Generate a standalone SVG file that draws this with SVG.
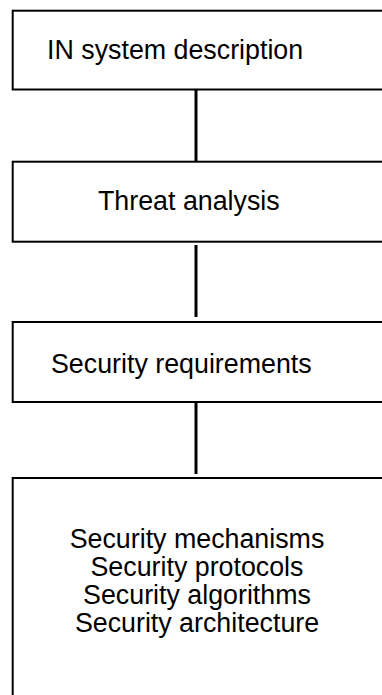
<svg xmlns="http://www.w3.org/2000/svg" width="382" height="695" viewBox="0 0 382 695">
  <style>
    .box { fill: #ffffff; stroke: #000000; stroke-width: 2; }
    .link { stroke: #000000; stroke-width: 3; fill: none; }
    .label { font-family: "Liberation Sans", Arial, sans-serif; font-size: 26.8px; fill: #000000; }
    .mid { text-anchor: middle; }
  </style>
  <rect width="382" height="695" fill="#ffffff"/>

  <!-- vertical connectors between stages -->
  <g id="connectors">
    <line class="link" x1="196" y1="90" x2="196" y2="162"/>
    <line class="link" x1="196" y1="245" x2="196" y2="317"/>
    <line class="link" x1="196" y1="402" x2="196" y2="474"/>
  </g>

  <g id="node-system-description">
    <rect class="box" x="12.7" y="10.7" width="400" height="78.8"/>
    <text class="label" x="47" y="59">IN system description</text>
  </g>

  <g id="node-threat-analysis">
    <rect class="box" x="12.7" y="161.7" width="400" height="80"/>
    <text class="label" x="98" y="210">Threat analysis</text>
  </g>

  <g id="node-security-requirements">
    <rect class="box" x="12.7" y="322" width="400" height="80"/>
    <text class="label" x="51" y="372.7">Security requirements</text>
  </g>

  <g id="node-security-design">
    <rect class="box" x="12.7" y="478" width="400" height="260"/>
    <text class="label mid" x="197" y="547.5">Security mechanisms</text>
    <text class="label mid" x="197" y="575.5">Security protocols</text>
    <text class="label mid" x="197" y="603.5">Security algorithms</text>
    <text class="label mid" x="197" y="631.5">Security architecture</text>
  </g>
</svg>
